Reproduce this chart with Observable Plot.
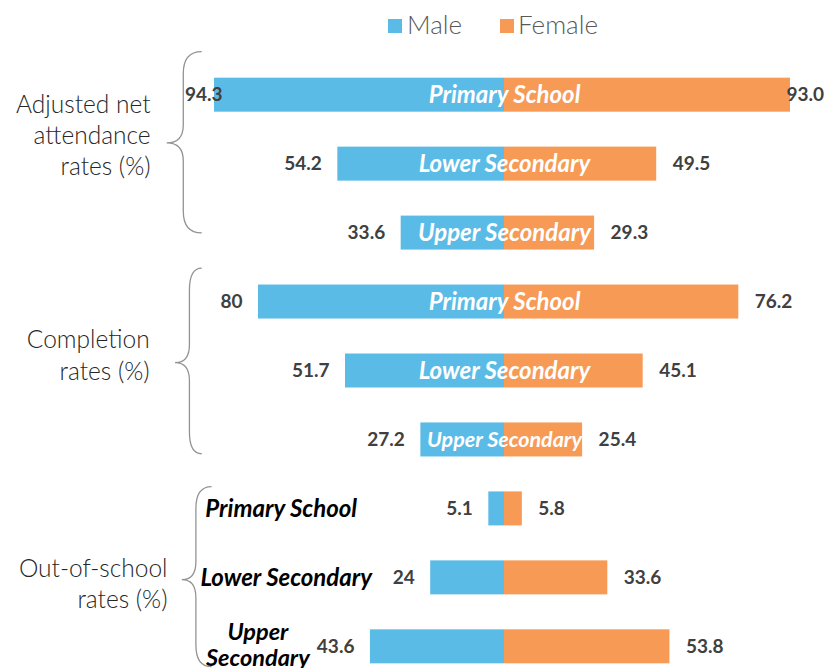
<!DOCTYPE html>
<html><head><meta charset="utf-8">
<script src="https://cdn.jsdelivr.net/npm/d3@7"></script>
<script src="https://cdn.jsdelivr.net/npm/@observablehq/plot@0.6"></script>
<style>
body{margin:0;background:#fff;font-family:Lato,sans-serif;}
#legend{position:relative;height:50px;width:827px;}
.sw{position:absolute;top:19px;width:14px;height:14px;}
.lt{position:absolute;top:7px;font-size:26px;font-weight:300;color:#595959;line-height:34px;white-space:nowrap;}
#chart svg{display:block;}
</style></head><body>
<div id="legend"></div>
<div id="chart"></div>
<script>
// ---- data ----
const groups = ["Adjusted net\nattendance\nrates (%)", "Completion\nrates (%)", "Out-of-school\nrates (%)"];
const levels = ["Primary School", "Lower Secondary", "Upper Secondary"];
const maleValues   = [94.3, 54.2, 33.6, 80, 51.7, 27.2, 5.1, 24, 43.6];
const femaleValues = [93.0, 49.5, 29.3, 76.2, 45.1, 25.4, 5.8, 33.6, 53.8];
const maleLabels   = ["94.3", "54.2", "33.6", "80", "51.7", "27.2", "5.1", "24", "43.6"];
const femaleLabels = ["93.0", "49.5", "29.3", "76.2", "45.1", "25.4", "5.8", "33.6", "53.8"];
const seriesNames  = ["Male", "Female"];
const seriesColors = ["#5BBBE7", "#F79A55"];

// ---- legend ----
const legend = document.getElementById("legend");
const swLeft = [388, 500], txLeft = [407, 518];
seriesNames.forEach((n, i) => {
  const s = document.createElement("div"); s.className = "sw";
  s.style.left = swLeft[i] + "px"; s.style.background = seriesColors[i];
  const t = document.createElement("div"); t.className = "lt";
  t.style.left = txLeft[i] + "px"; t.textContent = n;
  legend.appendChild(s); legend.appendChild(t);
});

// ---- table ----
const rows = [];
groups.forEach((g, gi) => levels.forEach((l, li) => {
  const i = gi * 3 + li;
  rows.push({group: g, level: l, key: gi + "|" + l, gi, li,
    male: maleValues[i], female: femaleValues[i],
    maleLabel: maleLabels[i], femaleLabel: femaleLabels[i]});
}));
const keys = rows.map(d => d.key);
const CLAMP = 86.5; // labels kept inside plot edge

// brace geometry (offsets from bar centres, x in data units)
const braceSpecs = [
  {top: -43, bottom: 0.3, tip: -20.7, xEnd: -98.3, xVert: -104.3, xTip: -109.7},
  {top: -33.4, bottom: 14.3, tip: -7.8, xEnd: -98.3, xVert: -102.3, xTip: -107},
  {top: -21.8, bottom: 20.4, tip: 2.3, xEnd: -95.1, xVert: -100.2, xTip: -104.8}
];
function braces(index, scales) {
  const g = d3.create("svg:g").attr("fill", "none").attr("stroke", "#939393").attr("stroke-width", 1.3);
  const bw = scales.y.bandwidth ? scales.y.bandwidth() : 34;
  const cy = k => scales.y(k) + bw / 2;
  braceSpecs.forEach((b, gi) => {
    const t = cy(gi + "|" + levels[0]) + b.top;
    const bo = cy(gi + "|" + levels[2]) + b.bottom;
    const tp = cy(gi + "|" + levels[1]) + b.tip;
    const xe = scales.x(b.xEnd), xv = scales.x(b.xVert), xt = scales.x(b.xTip);
    const r = 22, r2 = 18;
    const p = `M${xe},${t} Q${xv},${t} ${xv},${t + r} L${xv},${tp - r2} Q${xv},${tp} ${xt},${tp} ` +
              `Q${xv},${tp} ${xv},${tp + r2} L${xv},${bo - r} Q${xv},${bo} ${xe},${bo}`;
    g.append("path").attr("d", p);
  });
  return g.node();
}

const groupLabelX = [-115.1, -115.4, -109.6];
const groupLabelDy = [-30, -17, 5];
const outLabelX = [-97.3, -98.9, -80.2];
const outLabelAnchor = ["start", "start", "middle"];

const chart = Plot.plot({
  width: 827, height: 618, margin: 0,
  x: {domain: [-504 / 3.075, 323 / 3.075], range: [0, 827], axis: null},
  y: {domain: keys, range: [10.2, 630.8], paddingInner: 0.507, paddingOuter: 0.2535, round: false, axis: null},
  style: {fontFamily: "Lato, sans-serif", background: "white"},
  marks: [
    Plot.barX(rows, {x1: 0, x2: d => -d.male, y: "key", fill: seriesColors[0]}),
    Plot.barX(rows, {x1: 0, x2: d => d.female, y: "key", fill: seriesColors[1]}),
    Plot.text(rows, {x: d => -Math.min(d.male, CLAMP), y: "key", text: "maleLabel", textAnchor: "end", dx: -16,
      fill: "#404040", fontWeight: "bold", fontSize: 19}),
    Plot.text(rows, {x: d => Math.min(d.female, CLAMP), y: "key", text: "femaleLabel", textAnchor: "start", dx: 16,
      fill: "#404040", fontWeight: "bold", fontSize: 19}),
    Plot.text(rows.filter(d => d.gi < 2), {x: 0, y: "key", text: "level", fill: "white", fontWeight: "bold",
      fontStyle: "italic", fontSize: d => (d.gi === 1 && d.li === 2) ? 21.5 : 24}),
    ...levels.map((l, li) => Plot.text(rows.filter(d => d.gi === 2 && d.li === li), {
      x: outLabelX[li], y: "key", text: d => li === 2 ? d.level.replace(" ", "\n") : d.level,
      textAnchor: outLabelAnchor[li], fill: "black", fontWeight: "bold", fontStyle: "italic",
      fontSize: li === 2 ? 23.5 : 24, lineHeight: 1.08, lineAnchor: "middle", dy: li === 2 ? -2 : 0})),
    ...groups.map((g, gi) => Plot.text(rows.filter(d => d.gi === gi && d.li === 1), {
      x: groupLabelX[gi], y: "key", text: "group", textAnchor: "end", dy: groupLabelDy[gi],
      fill: "#262626", fontSize: 24.5, fontWeight: 300, lineHeight: 1.27, lineAnchor: "middle"})),
    braces
  ]
});
document.getElementById("chart").appendChild(chart);
</script>
</body></html>
